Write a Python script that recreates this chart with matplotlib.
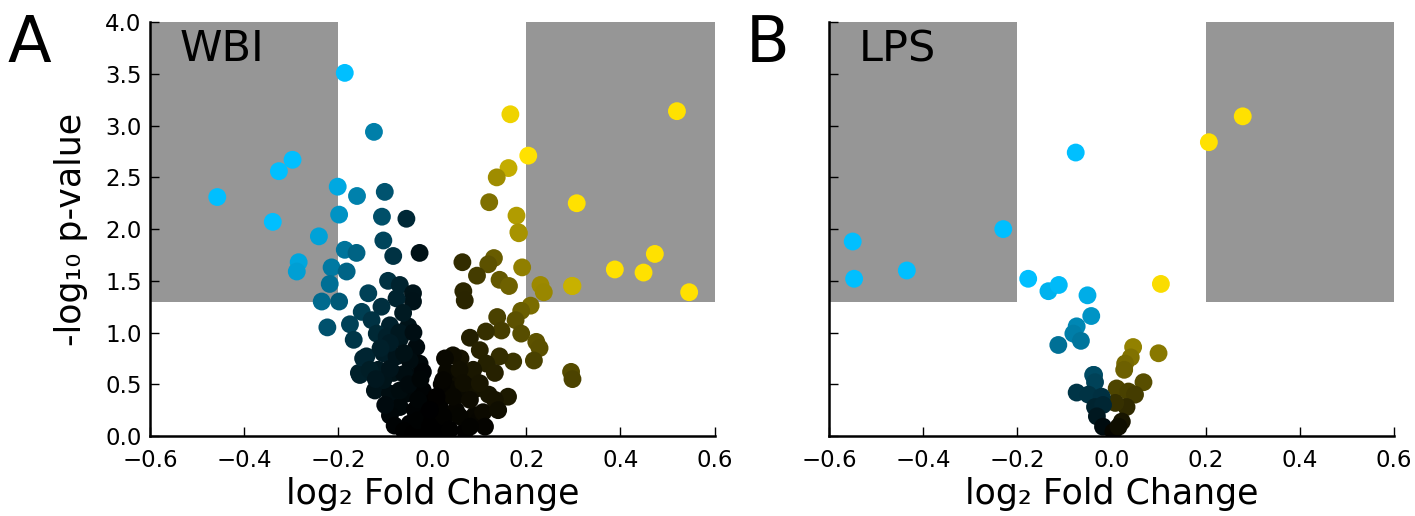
import numpy as np
import matplotlib
matplotlib.use("Agg")
import matplotlib.pyplot as plt
from matplotlib.patches import Rectangle

# WBI panel: log2 fold change and -log10 p-value
wbi_fc = [
    -0.186, -0.124, -0.297, -0.326, -0.457, -0.339, -0.201, -0.160, -0.101, -0.198,
    -0.107, -0.055, -0.241, -0.186, -0.161, -0.104, -0.083, -0.027, -0.284, -0.288,
    -0.214, -0.182, -0.218, -0.235, -0.198, -0.223, -0.175, -0.167, -0.094, -0.136,
    -0.156, -0.147,
    -0.069, -0.041, -0.041, -0.076, -0.108, -0.150, -0.129, -0.090, -0.051, -0.118,
    -0.069, -0.034, -0.140, -0.104, -0.076, -0.027, -0.154, -0.115, -0.083, -0.048,
    -0.020, -0.122, -0.090, -0.055, -0.020, -0.069, -0.037, -0.048, -0.012, -0.002,
    -0.023, -0.104, -0.133, -0.069, -0.097, -0.062, -0.048,
    -0.090, -0.080, -0.060, -0.040, -0.020, -0.010, -0.030, -0.060, -0.090, -0.100,
    -0.070, -0.090, -0.060, -0.040, -0.110, -0.120, -0.050, -0.025, -0.030, 0.000,
    0.000, 0.010, 0.020, 0.030, 0.015, 0.050, 0.060, 0.070, 0.090, 0.100,
    0.075, 0.050, 0.090, 0.040, 0.120, 0.030, 0.060, 0.020,
    0.184, 0.064, 0.131, 0.119, 0.095, 0.191, 0.143, 0.163, 0.230, 0.237,
    0.297, 0.066, 0.069, 0.209, 0.189, 0.138, 0.177, 0.147, 0.189, 0.114,
    0.080, 0.221, 0.228, 0.216, 0.295, 0.298, 0.172, 0.143, 0.044, 0.027,
    0.101, 0.115, 0.087, 0.058, 0.133, 0.023, 0.066, 0.101, 0.161, 0.133,
    0.044, 0.009, 0.080, 0.108, 0.140, 0.112, 0.058, 0.023, 0.037, -0.005,
    0.080, -0.005,
    0.166, 0.520, 0.204, 0.162, 0.137, 0.121, 0.307, 0.179, 0.183, 0.473,
    0.388, 0.449, 0.546, 0.298,
]
wbi_p = [
    3.51, 2.94, 2.67, 2.56, 2.31, 2.07, 2.41, 2.32, 2.36, 2.14,
    2.12, 2.10, 1.93, 1.80, 1.77, 1.89, 1.74, 1.77, 1.68, 1.59,
    1.63, 1.59, 1.47, 1.30, 1.30, 1.05, 1.08, 0.93, 1.50, 1.38,
    0.61, 0.75,
    1.46, 1.38, 1.30, 1.33, 1.25, 1.20, 1.12, 1.07, 1.06, 0.99,
    0.94, 0.86, 0.77, 0.80, 0.77, 0.70, 0.59, 0.64, 0.61, 0.57,
    0.62, 0.44, 0.41, 0.41, 0.44, 0.28, 0.25, 0.12, 0.15, 0.32,
    0.06, 0.54, 0.64, 0.44, 0.96, 1.19, 0.73,
    0.20, 0.10, 0.05, 0.02, 0.02, 0.20, 0.35, 0.60, 0.65, 0.30,
    1.00, 0.90, 0.80, 1.00, 0.85, 0.55, 0.50, 0.55, 0.15, 0.05,
    0.15, 0.10, 0.03, 0.20, 0.30, 0.25, 0.40, 0.05, 0.20, 0.15,
    0.55, 0.60, 0.45, 0.45, 0.40, 0.62, 0.75, 0.50,
    1.96, 1.68, 1.72, 1.66, 1.55, 1.63, 1.51, 1.45, 1.46, 1.39,
    1.45, 1.40, 1.31, 1.26, 1.21, 1.15, 1.12, 1.02, 0.99, 1.01,
    0.95, 0.91, 0.85, 0.73, 0.62, 0.55, 0.72, 0.77, 0.78, 0.75,
    0.83, 0.70, 0.64, 0.64, 0.61, 0.54, 0.51, 0.51, 0.38, 0.35,
    0.38, 0.38, 0.35, 0.23, 0.25, 0.09, 0.19, 0.19, 0.06, 0.09,
    0.09, 0.25,
    3.11, 3.14, 2.71, 2.59, 2.50, 2.26, 2.25, 2.13, 1.97, 1.76,
    1.61, 1.58, 1.39, 1.45,
]

# LPS panel
lps_fc = [
    -0.550, -0.547, -0.435, -0.230, -0.076, -0.177, -0.134, -0.112, -0.051, -0.043,
    -0.074, -0.081, -0.065, -0.113, -0.039, -0.074,
    0.279, 0.207, 0.105, 0.046, 0.041, 0.029, 0.027, 0.100, 0.068, 0.011,
    0.036, 0.050, 0.032, 0.022, 0.008, -0.037, -0.035, -0.049, -0.021, -0.035,
    -0.018, -0.031, -0.018, 0.004, 0.015,
]
lps_p = [
    1.88, 1.52, 1.60, 2.00, 2.74, 1.52, 1.40, 1.46, 1.36, 1.16,
    1.06, 0.99, 0.92, 0.88, 0.59, 0.42,
    3.09, 2.84, 1.47, 0.86, 0.76, 0.70, 0.64, 0.80, 0.52, 0.46,
    0.43, 0.40, 0.28, 0.14, 0.32, 0.59, 0.52, 0.40, 0.38, 0.28,
    0.30, 0.19, 0.09, 0.04, 0.09,
]

fc_cut = 0.2
p_cut = 1.3

neg = np.array([0, 191, 255]) / 255.0
pos = np.array([255, 225, 0]) / 255.0


def colours(fc, p, mode):
    fc = np.asarray(fc)
    p = np.asarray(p)
    if mode == "product":
        t = np.clip(np.abs(fc) * p / 0.55, 0, 1)
    else:
        t = np.clip(p / 1.5, 0, 1)
    base = np.where(fc[:, None] < 0, neg, pos)
    return base * t[:, None]


fig = plt.figure(figsize=(14.15, 5.16), dpi=100)
axA = fig.add_axes([0.106, 0.155, 0.399, 0.802])
axB = fig.add_axes([0.586, 0.155, 0.399, 0.802])

for ax, fc, p, mode, name in [(axA, wbi_fc, wbi_p, "product", "WBI"),
                              (axB, lps_fc, lps_p, "y", "LPS")]:
    ax.add_patch(Rectangle((-0.6, p_cut), 0.6 - fc_cut, 4 - p_cut,
                           color="#969696", lw=0, zorder=0))
    ax.add_patch(Rectangle((fc_cut, p_cut), 0.6 - fc_cut, 4 - p_cut,
                           color="#969696", lw=0, zorder=0))
    ax.scatter(fc, p, s=165, c=colours(fc, p, mode), linewidths=0, zorder=2)
    ax.set_xlim(-0.6, 0.6)
    ax.set_ylim(0, 4)
    ax.set_xticks(np.arange(-0.6, 0.61, 0.2))
    ax.set_yticks(np.arange(0, 4.01, 0.5))
    ax.xaxis.set_major_formatter(plt.FuncFormatter(
        lambda v, _: ("%.1f" % v).replace("-", "\u2212") if abs(v) > 1e-9 else "0.0"))
    ax.yaxis.set_major_formatter(plt.FormatStrFormatter("%.1f"))
    for s in ["top", "right"]:
        ax.spines[s].set_visible(False)
    for s in ["left", "bottom"]:
        ax.spines[s].set_linewidth(1.8)
    ax.tick_params(direction="in", length=6.5, width=1, labelsize=16.5,
                   top=False, right=False)
    ax.tick_params(axis="y", pad=6)
    ax.tick_params(axis="x", pad=9)
    ax.set_xlabel("log\u2082 Fold Change", fontsize=25, labelpad=4)
    ax.text(0.053, 0.985, name, transform=ax.transAxes, fontsize=31,
            va="top", ha="left")

axA.set_ylabel("-log\u2081\u2080 p-value", fontsize=25, labelpad=12)
axB.tick_params(labelleft=False)

fig.text(0.005, 0.975, "A", fontsize=46, va="top")
fig.text(0.527, 0.975, "B", fontsize=46, va="top")

fig.savefig("out.png", dpi=100)
